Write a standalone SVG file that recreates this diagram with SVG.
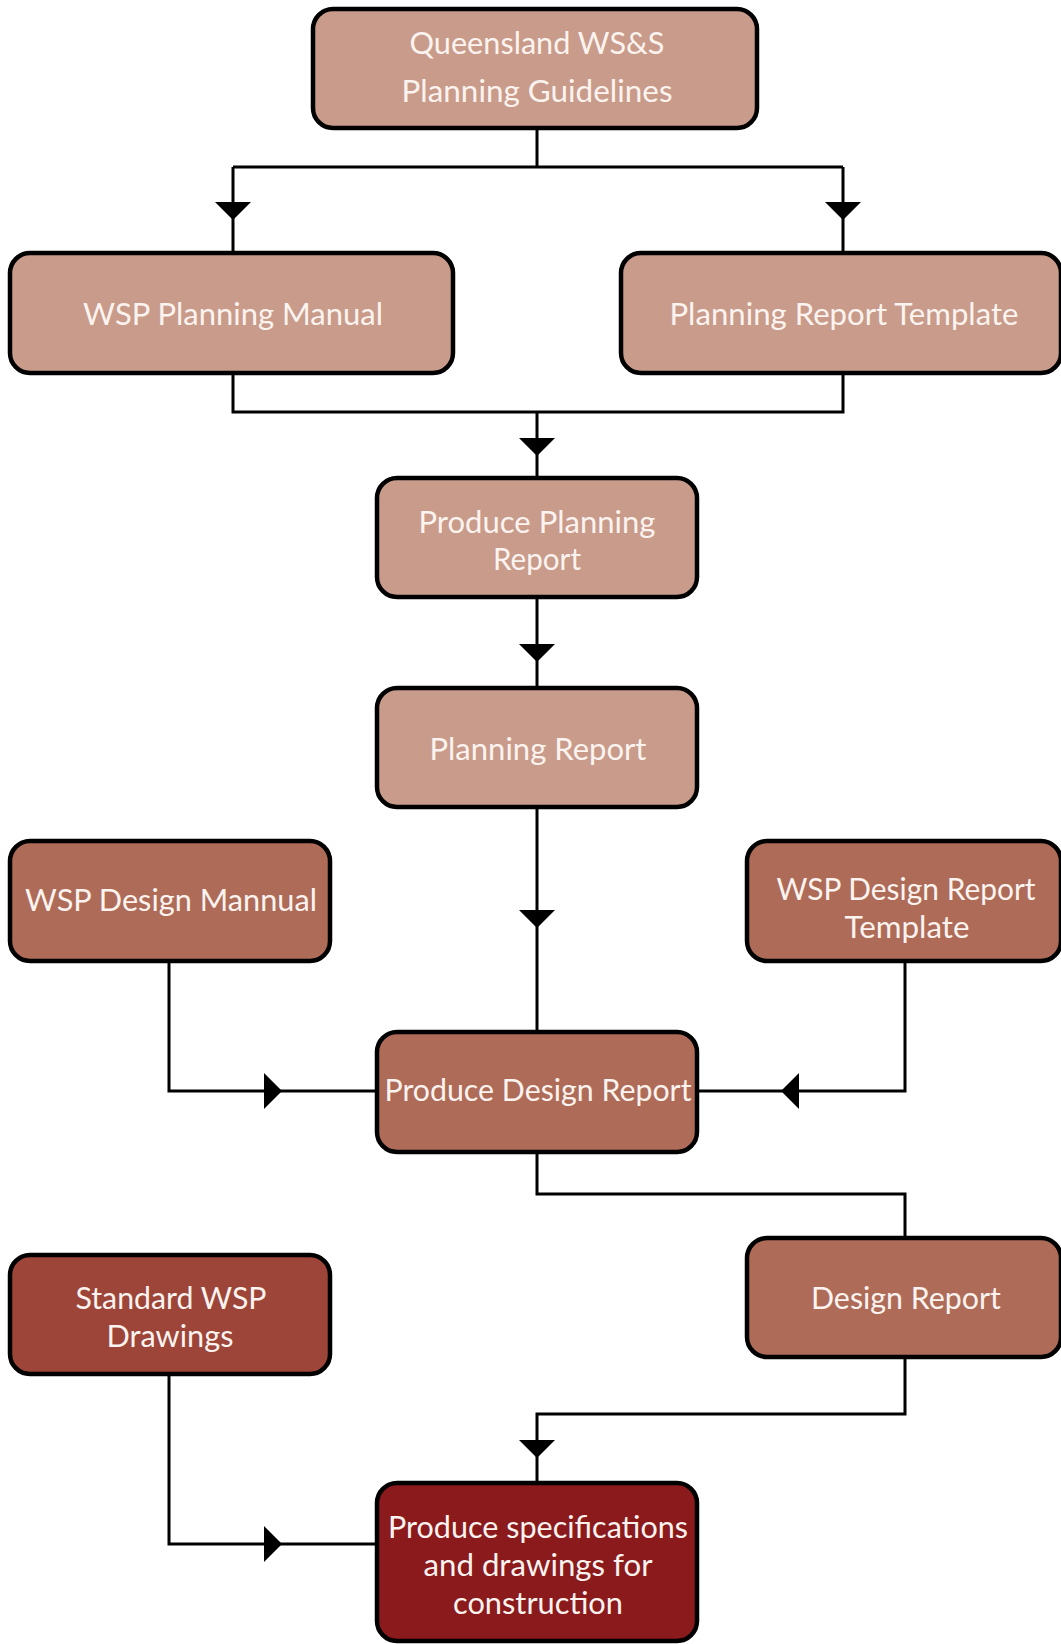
<svg xmlns="http://www.w3.org/2000/svg" width="1061" height="1644" viewBox="0 0 1061 1644">
<style>
.n rect{stroke:#000;stroke-width:4.5}
.l1 rect{fill:#C99B8A}
.l2 rect{fill:#AE6B58}
.l3 rect{fill:#9C4538}
.l4 rect{fill:#8A1A1C}
.n text{font-family:Lato,"Open Sans","Liberation Sans",sans-serif;font-size:30px;fill:#FBF3EF;text-anchor:middle}
#connectors path.c{fill:none;stroke:#000;stroke-width:3}
#connectors path.a{fill:#000;stroke:none}
</style>
<rect width="1061" height="1644" fill="#fff"/>
<g id="connectors">
<path class="c" d="M537 128V167M233 167H843M233 167V253M843 167V253"/>
<path class="c" d="M233 373V412H843V373M537 412V478"/>
<path class="c" d="M537 597V688"/>
<path class="c" d="M537 807V1032"/>
<path class="c" d="M169 961V1091H377"/>
<path class="c" d="M905 961V1091H697"/>
<path class="c" d="M537 1152V1194H905V1238"/>
<path class="c" d="M905 1357V1414H537V1483"/>
<path class="c" d="M169 1374V1544H377"/>
<path class="a" d="M215 202H251L233 220Z"/>
<path class="a" d="M825 202H861L843 220Z"/>
<path class="a" d="M519 438H555L537 456Z"/>
<path class="a" d="M519 644H555L537 662Z"/>
<path class="a" d="M519 910H555L537 928Z"/>
<path class="a" d="M264 1073V1109L282 1091Z"/>
<path class="a" d="M799 1073V1109L781 1091Z"/>
<path class="a" d="M519 1440H555L537 1458Z"/>
<path class="a" d="M264 1526V1562L282 1544Z"/>
</g>
<g id="n1" class="n l1"><rect x="313" y="9" width="444" height="119" rx="20"/><text x="537" y="54" textLength="255" lengthAdjust="spacingAndGlyphs">Queensland WS&amp;S</text><text x="537" y="102" textLength="271" lengthAdjust="spacingAndGlyphs">Planning Guidelines</text></g>
<g id="n2" class="n l1"><rect x="10" y="253" width="443" height="120" rx="20"/><text x="233" y="325" textLength="300" lengthAdjust="spacingAndGlyphs">WSP Planning Manual</text></g>
<g id="n3" class="n l1"><rect x="621" y="253" width="440" height="120" rx="20"/><text x="844" y="325" textLength="349" lengthAdjust="spacingAndGlyphs">Planning Report Template</text></g>
<g id="n4" class="n l1"><rect x="377" y="478" width="320" height="119" rx="20"/><text x="537" y="533" textLength="237" lengthAdjust="spacingAndGlyphs">Produce Planning</text><text x="537" y="570" textLength="88" lengthAdjust="spacingAndGlyphs">Report</text></g>
<g id="n5" class="n l1"><rect x="377" y="688" width="320" height="119" rx="20"/><text x="538" y="760" textLength="217" lengthAdjust="spacingAndGlyphs">Planning Report</text></g>
<g id="n6" class="n l2"><rect x="10" y="841" width="320" height="120" rx="20"/><text x="171" y="911" textLength="292" lengthAdjust="spacingAndGlyphs">WSP Design Mannual</text></g>
<g id="n7" class="n l2"><rect x="747" y="841" width="314" height="120" rx="20"/><text x="906" y="900" textLength="259" lengthAdjust="spacingAndGlyphs">WSP Design Report</text><text x="907" y="938" textLength="125" lengthAdjust="spacingAndGlyphs">Template</text></g>
<g id="n8" class="n l2"><rect x="377" y="1032" width="320" height="120" rx="20"/><text x="538" y="1101" textLength="307" lengthAdjust="spacingAndGlyphs">Produce Design Report</text></g>
<g id="n9" class="n l3"><rect x="10" y="1255" width="320" height="119" rx="20"/><text x="171" y="1309" textLength="191" lengthAdjust="spacingAndGlyphs">Standard WSP</text><text x="170" y="1347" textLength="127" lengthAdjust="spacingAndGlyphs">Drawings</text></g>
<g id="n10" class="n l2"><rect x="747" y="1238" width="314" height="119" rx="20"/><text x="906" y="1309" textLength="190" lengthAdjust="spacingAndGlyphs">Design Report</text></g>
<g id="n11" class="n l4"><rect x="377" y="1483" width="320" height="158" rx="20"/><text x="538" y="1538" textLength="300" lengthAdjust="spacingAndGlyphs">Produce specifications</text><text x="538" y="1576" textLength="229" lengthAdjust="spacingAndGlyphs">and drawings for</text><text x="538" y="1614" textLength="170" lengthAdjust="spacingAndGlyphs">construction</text></g>
</svg>
